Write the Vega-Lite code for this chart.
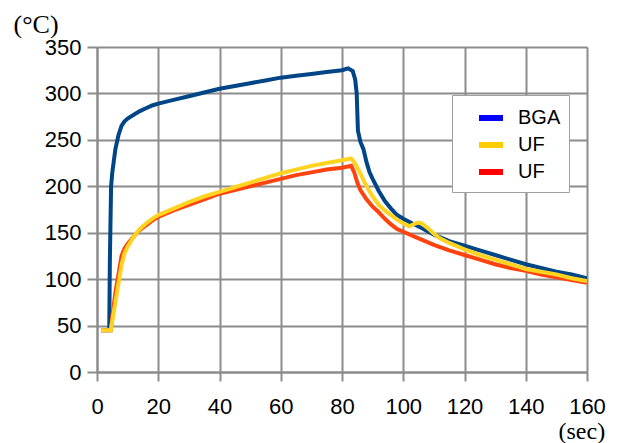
{
  "$schema": "https://vega.github.io/schema/vega-lite/v6.json",
  "width": 490,
  "height": 325,
  "autosize": "none",
  "padding": {"left": 97, "top": 47, "right": 41, "bottom": 71},
  "background": "white",
  "config": {"font": "Liberation Sans", "view": {"stroke": null}},
  "data": {"values": [
    {"s":"BGA","t":1.3,"v":45},{"s":"BGA","t":4,"v":45},{"s":"BGA","t":4.2,"v":120},{"s":"BGA","t":4.6,"v":200},{"s":"BGA","t":5,"v":215},{"s":"BGA","t":6,"v":240},{"s":"BGA","t":7,"v":255},{"s":"BGA","t":8,"v":265},{"s":"BGA","t":9,"v":270},{"s":"BGA","t":10,"v":273},{"s":"BGA","t":12,"v":277},{"s":"BGA","t":14,"v":281},{"s":"BGA","t":16,"v":284},{"s":"BGA","t":18,"v":287},{"s":"BGA","t":20,"v":289},{"s":"BGA","t":25,"v":293},{"s":"BGA","t":30,"v":297},{"s":"BGA","t":35,"v":301},{"s":"BGA","t":40,"v":305},{"s":"BGA","t":45,"v":308},{"s":"BGA","t":50,"v":311},{"s":"BGA","t":55,"v":314},{"s":"BGA","t":60,"v":317},{"s":"BGA","t":65,"v":319},{"s":"BGA","t":70,"v":321},{"s":"BGA","t":75,"v":323},{"s":"BGA","t":80,"v":325},{"s":"BGA","t":82,"v":327},{"s":"BGA","t":83.5,"v":324},{"s":"BGA","t":84.3,"v":315},{"s":"BGA","t":84.8,"v":300},{"s":"BGA","t":85.2,"v":260},{"s":"BGA","t":86,"v":248},{"s":"BGA","t":87,"v":240},{"s":"BGA","t":88,"v":226},{"s":"BGA","t":89,"v":215},{"s":"BGA","t":90,"v":208},{"s":"BGA","t":92,"v":195},{"s":"BGA","t":94,"v":184},{"s":"BGA","t":96,"v":176},{"s":"BGA","t":98,"v":169},{"s":"BGA","t":100,"v":165},{"s":"BGA","t":103,"v":160},{"s":"BGA","t":106,"v":155},{"s":"BGA","t":110,"v":148},{"s":"BGA","t":115,"v":141},{"s":"BGA","t":120,"v":136},{"s":"BGA","t":125,"v":131},{"s":"BGA","t":130,"v":126},{"s":"BGA","t":135,"v":121},{"s":"BGA","t":140,"v":116},{"s":"BGA","t":145,"v":112},{"s":"BGA","t":150,"v":108},{"s":"BGA","t":155,"v":105},{"s":"BGA","t":160,"v":101},
    {"s":"UF2","t":1.3,"v":45},{"s":"UF2","t":4.5,"v":45},{"s":"UF2","t":5,"v":60},{"s":"UF2","t":6,"v":85},{"s":"UF2","t":7,"v":105},{"s":"UF2","t":8,"v":125},{"s":"UF2","t":9,"v":133},{"s":"UF2","t":10,"v":138},{"s":"UF2","t":12,"v":146},{"s":"UF2","t":14,"v":153},{"s":"UF2","t":16,"v":158},{"s":"UF2","t":18,"v":163},{"s":"UF2","t":20,"v":167},{"s":"UF2","t":25,"v":174},{"s":"UF2","t":30,"v":180},{"s":"UF2","t":35,"v":186},{"s":"UF2","t":40,"v":192},{"s":"UF2","t":45,"v":196},{"s":"UF2","t":50,"v":200},{"s":"UF2","t":55,"v":204},{"s":"UF2","t":60,"v":208},{"s":"UF2","t":65,"v":212},{"s":"UF2","t":70,"v":215},{"s":"UF2","t":75,"v":218},{"s":"UF2","t":80,"v":220},{"s":"UF2","t":83,"v":222},{"s":"UF2","t":84,"v":215},{"s":"UF2","t":85,"v":204},{"s":"UF2","t":86,"v":196},{"s":"UF2","t":88,"v":186},{"s":"UF2","t":90,"v":178},{"s":"UF2","t":92,"v":172},{"s":"UF2","t":94,"v":165},{"s":"UF2","t":96,"v":159},{"s":"UF2","t":98,"v":154},{"s":"UF2","t":100,"v":151},{"s":"UF2","t":105,"v":144},{"s":"UF2","t":110,"v":137},{"s":"UF2","t":115,"v":131},{"s":"UF2","t":120,"v":126},{"s":"UF2","t":125,"v":121},{"s":"UF2","t":130,"v":116},{"s":"UF2","t":135,"v":112},{"s":"UF2","t":140,"v":109},{"s":"UF2","t":145,"v":105},{"s":"UF2","t":150,"v":102},{"s":"UF2","t":155,"v":99},{"s":"UF2","t":160,"v":96},
    {"s":"UF","t":1.3,"v":45},{"s":"UF","t":4.5,"v":45},{"s":"UF","t":5,"v":55},{"s":"UF","t":6,"v":75},{"s":"UF","t":7,"v":95},{"s":"UF","t":8,"v":115},{"s":"UF","t":9,"v":128},{"s":"UF","t":10,"v":135},{"s":"UF","t":12,"v":146},{"s":"UF","t":14,"v":154},{"s":"UF","t":16,"v":160},{"s":"UF","t":18,"v":165},{"s":"UF","t":20,"v":169},{"s":"UF","t":25,"v":176},{"s":"UF","t":30,"v":183},{"s":"UF","t":35,"v":189},{"s":"UF","t":40,"v":194},{"s":"UF","t":45,"v":199},{"s":"UF","t":50,"v":204},{"s":"UF","t":55,"v":209},{"s":"UF","t":60,"v":214},{"s":"UF","t":65,"v":218},{"s":"UF","t":70,"v":222},{"s":"UF","t":75,"v":225},{"s":"UF","t":80,"v":228},{"s":"UF","t":83,"v":230},{"s":"UF","t":84,"v":226},{"s":"UF","t":85,"v":220},{"s":"UF","t":86,"v":214},{"s":"UF","t":88,"v":200},{"s":"UF","t":90,"v":189},{"s":"UF","t":92,"v":180},{"s":"UF","t":94,"v":174},{"s":"UF","t":96,"v":169},{"s":"UF","t":98,"v":164},{"s":"UF","t":100,"v":160},{"s":"UF","t":102,"v":157},{"s":"UF","t":104,"v":160},{"s":"UF","t":105,"v":161},{"s":"UF","t":106,"v":160},{"s":"UF","t":108,"v":155},{"s":"UF","t":110,"v":149},{"s":"UF","t":112,"v":144},{"s":"UF","t":115,"v":139},{"s":"UF","t":120,"v":132},{"s":"UF","t":125,"v":126},{"s":"UF","t":130,"v":121},{"s":"UF","t":135,"v":116},{"s":"UF","t":140,"v":111},{"s":"UF","t":145,"v":108},{"s":"UF","t":150,"v":105},{"s":"UF","t":155,"v":101},{"s":"UF","t":160,"v":98}
  ]},
  "encoding": {
    "x": {"field": "t", "type": "quantitative",
      "scale": {"domain": [0, 160], "nice": false},
      "axis": {"values": [0,20,40,60,80,100,120,140,160], "title": "(sec)", "titleFont": "Liberation Serif", "titleFontSize": 24, "titleFontWeight": "normal", "titleColor": "black",
        "titleAlign": "left", "titleBaseline": "alphabetic", "titleX": 461, "titleY": 66, "titleAnchor": null,
        "labelFontSize": 22, "labelColor": "black", "labelPadding": 15, "tickSize": 9, "tickColor": "#8c8c8c", "tickWidth": 2,
        "domainColor": "#8c8c8c", "domainWidth": 2, "gridColor": "#8c8c8c", "gridWidth": 2, "labelFlush": false}},
    "y": {"field": "v", "type": "quantitative",
      "scale": {"domain": [0, 350], "nice": false},
      "axis": {"values": [0,50,100,150,200,250,300,350], "title": "(°C)", "titleFont": "Liberation Serif", "titleFontSize": 26, "titleFontWeight": "normal", "titleColor": "black",
        "titleAngle": 0, "titleAlign": "left", "titleBaseline": "alphabetic", "titleX": -84, "titleY": -15,
        "labelFontSize": 22, "labelColor": "black", "labelPadding": 6, "tickSize": 10, "tickColor": "#8c8c8c", "tickWidth": 2,
        "domainColor": "#8c8c8c", "domainWidth": 2, "gridColor": "#8c8c8c", "gridWidth": 2, "labelFlush": false}}
  },
  "layer": [
    {
      "mark": {"type": "line", "strokeWidth": 1, "clip": true},
      "encoding": {
        "color": {"field": "s", "type": "nominal",
          "scale": {"domain": ["BGA", "UF", "UF2"], "range": ["#0000ff", "#ffcc00", "#ff0000"]},
          "legend": {"title": null, "orient": "none", "legendX": 355, "legendY": 48,
            "labelExpr": "datum.label == 'UF2' ? 'UF' : datum.label",
            "symbolType": "stroke", "symbolSize": 576, "symbolStrokeWidth": 6, "symbolOffset": 16,
            "labelFontSize": 20, "labelColor": "black", "labelOffset": 12, "rowPadding": -2,
            "padding": 8, "strokeColor": "#a0a0a0", "fillColor": "white"}}
      }
    },
    {
      "mark": {"type": "line", "strokeWidth": 4, "clip": true},
      "encoding": {
        "color": {"field": "s", "type": "nominal",
          "scale": {"domain": ["BGA", "UF", "UF2"], "range": ["#004586", "#ffd320", "#ff420e"]},
          "legend": null}
      }
    }
  ],
  "resolve": {"scale": {"color": "independent"}}
}
